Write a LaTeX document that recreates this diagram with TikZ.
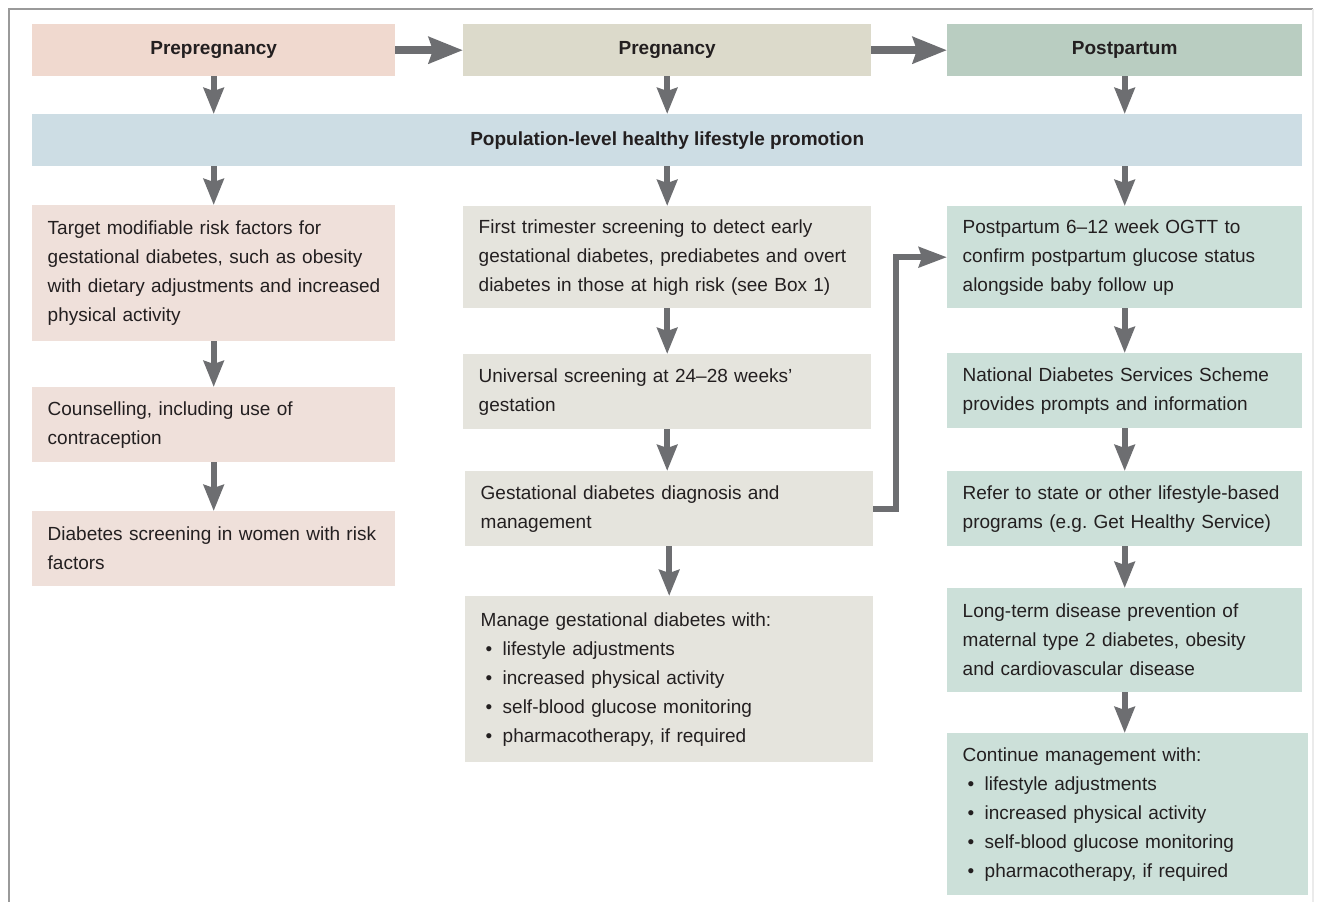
\documentclass[tikz,border=0pt]{standalone}
\usepackage{fontspec}
\setmainfont{Liberation Sans}
\usetikzlibrary{arrows.meta}
\definecolor{hpre}{HTML}{F0D9CF}
\definecolor{hpreg}{HTML}{DCDACB}
\definecolor{hpost}{HTML}{B9CDC1}
\definecolor{bandc}{HTML}{CDDDE4}
\definecolor{lpre}{HTML}{EFE0DA}
\definecolor{lpreg}{HTML}{E5E4DD}
\definecolor{lpost}{HTML}{CCE0D9}
\definecolor{arrc}{HTML}{6D6E71}
\definecolor{txt}{HTML}{231F20}
\definecolor{framec}{HTML}{9A9A9A}
\newcommand{\bul}{\hspace*{5pt}\makebox[17pt][l]{•}}
\frenchspacing
\begin{document}
\begin{tikzpicture}[x=1pt,y=-1pt,
  box/.style={rectangle, anchor=north west, inner xsep=15.5pt, inner ysep=0pt,
    align=left, font=\fontsize{19}{29}\selectfont, text=txt,
    execute at begin node={\hyphenpenalty=10000\exhyphenpenalty=10000}},
  head/.style={rectangle, anchor=north west, inner sep=0pt, minimum height=52pt,
    font=\bfseries\fontsize{19}{22}\selectfont, text=txt},
  varr/.style={draw=arrc, line width=6pt, -{Stealth[length=26pt,width=20pt,inset=3pt]}},
  harr/.style={draw=arrc, line width=7.5pt, -{Stealth[length=34pt,width=26pt,inset=4pt]}},
  earr/.style={draw=arrc, line width=6pt, line join=miter, -{Stealth[length=28pt,width=20pt,inset=3pt]}}
]
\useasboundingbox (0,0) rectangle (1320,902);
\draw[framec, line width=2pt] (9,903) -- (9,9) -- (1313,9);
\draw[black!8, line width=1.5pt] (1313,9) -- (1313,903);

% headers
\node[head, fill=hpre, minimum width=363pt] (H1) at (32,24) {Prepregnancy};
\node[head, fill=hpreg, minimum width=408pt] (H2) at (463,24) {Pregnancy};
\node[head, fill=hpost, minimum width=355pt] (H3) at (947,24) {Postpartum};
\node[head, fill=bandc, minimum width=1270pt] (band) at (32,114) {Population-level healthy lifestyle promotion};

% left column
\node[box, fill=lpre, minimum width=363pt, text width=332pt, minimum height=136pt] (L1) at (32,205)
  {Target modifiable risk factors for\\gestational diabetes, such as obesity\\\mbox{with dietary adjustments and increased}\\physical activity};
\node[box, fill=lpre, minimum width=363pt, text width=332pt, minimum height=75pt] (L2) at (32,387)
  {Counselling, including use of\\contraception};
\node[box, fill=lpre, minimum width=363pt, text width=332pt, minimum height=75pt] (L3) at (32,511)
  {\mbox{Diabetes screening in women with risk}\\factors};

% middle column
\node[box, fill=lpreg, minimum width=408pt, text width=377pt, minimum height=102pt] (M1) at (463,206)
  {First trimester screening to detect early\\\mbox{gestational diabetes, prediabetes and overt}\\diabetes in those at high risk (see Box 1)};
\node[box, fill=lpreg, minimum width=408pt, text width=377pt, minimum height=75pt] (M2) at (463,354)
  {Universal screening at 24–28 weeks’\\gestation};
\node[box, fill=lpreg, minimum width=408pt, text width=377pt, minimum height=75pt] (M3) at (465,471)
  {Gestational diabetes diagnosis and\\management};
\node[box, fill=lpreg, minimum width=408pt, text width=377pt, minimum height=166pt] (M4) at (465,596)
  {Manage gestational diabetes with:\\\bul lifestyle adjustments\\\bul increased physical activity\\\bul self-blood glucose monitoring\\\bul pharmacotherapy, if required};

% right column
\node[box, fill=lpost, minimum width=355pt, text width=324pt, minimum height=102pt] (R1) at (947,206)
  {Postpartum 6–12 week OGTT to\\confirm postpartum glucose status\\alongside baby follow up};
\node[box, fill=lpost, minimum width=355pt, text width=324pt, minimum height=75pt] (R2) at (947,353)
  {National Diabetes Services Scheme\\provides prompts and information};
\node[box, fill=lpost, minimum width=355pt, text width=324pt, minimum height=75pt] (R3) at (947,471)
  {\mbox{Refer to state or other lifestyle-based}\\programs (e.g. Get Healthy Service)};
\node[box, fill=lpost, minimum width=355pt, text width=324pt, minimum height=104pt] (R4) at (947,588)
  {Long-term disease prevention of\\maternal type 2 diabetes, obesity\\and cardiovascular disease};
\node[box, fill=lpost, minimum width=361pt, text width=330pt, minimum height=162pt] (R5) at (947,733)
  {Continue management with:\\\bul lifestyle adjustments\\\bul increased physical activity\\\bul self-blood glucose monitoring\\\bul pharmacotherapy, if required};

% horizontal arrows
\draw[harr] (H1.east) -- (H2.west);
\draw[harr] (H2.east) -- (H3.west);

% headers to band
\draw[varr] (H1.south) -- (H1.south |- band.north);
\draw[varr] (H2.south) -- (H2.south |- band.north);
\draw[varr] (H3.south) -- (H3.south |- band.north);

% band to columns
\draw[varr] (band.south -| L1.north) -- (L1.north);
\draw[varr] (band.south -| M1.north) -- (M1.north);
\draw[varr] (band.south -| R1.north) -- (R1.north);

% left chain
\draw[varr] (L1.south) -- (L2.north);
\draw[varr] (L2.south) -- (L3.north);

% middle chain
\draw[varr] (M1.south) -- (M2.north);
\draw[varr] (M2.south) -- (M2.south |- M3.north);
\draw[varr] (M3.south) -- (M4.north);

% right chain
\draw[varr] (R1.south) -- (R2.north);
\draw[varr] (R2.south) -- (R3.north);
\draw[varr] (R3.south) -- (R4.north);
\draw[varr] (R4.south) -- (R4.south |- R5.north);

% elbow
\draw[earr] (M3.east) -- ++(23,0) |- (R1.west);
\end{tikzpicture}
\end{document}
